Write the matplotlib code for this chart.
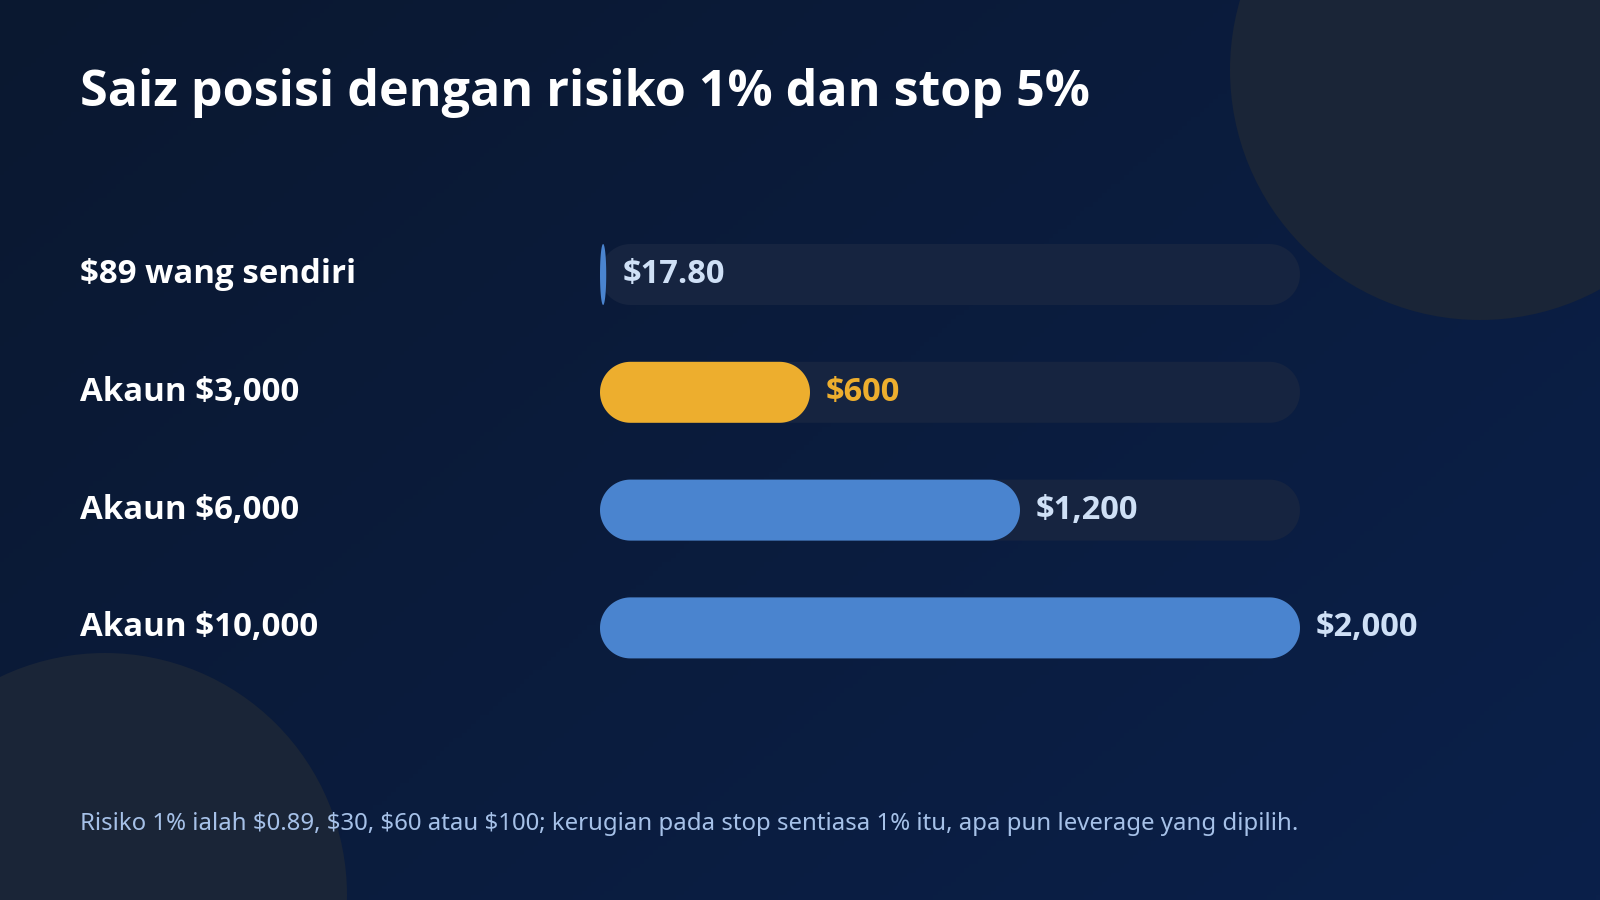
import numpy as np
import matplotlib
matplotlib.use("Agg")
import matplotlib.pyplot as plt
from matplotlib import font_manager
from matplotlib.patches import Polygon, Circle
from matplotlib.transforms import blended_transform_factory, IdentityTransform

# ---- data ----
categories = ["$89 wang sendiri", "Akaun $3,000", "Akaun $6,000", "Akaun $10,000"]
values = [17.80, 600, 1200, 2000]
value_labels = ["$17.80", "$600", "$1,200", "$2,000"]
highlight = [False, True, False, False]
title = "Saiz posisi dengan risiko 1% dan stop 5%"
footnote = ("Risiko 1% ialah $0.89, $30, $60 atau $100; kerugian pada stop sentiasa 1% itu, "
            "apa pun leverage yang dipilih.")
x_max = 2000

plt.rcParams["text.parse_math"] = False

# ---- fonts: find a family with a real bold face ----
bold_fams = {}
for f in font_manager.fontManager.ttflist:
    w = f.weight if isinstance(f.weight, int) else {"bold": 700, "normal": 400}.get(f.weight, 400)
    bold_fams.setdefault(f.name, set()).add(w)
FONT = "Noto Sans"
for cand in ["Noto Sans", "Open Sans", "Lato", "Roboto", "DejaVu Sans"]:
    if cand in bold_fams and max(bold_fams[cand]) >= 600:
        FONT = cand
        break
REG = "Noto Sans" if "Noto Sans" in bold_fams else FONT

# ---- style ----
W, H, DPI = 1600, 900, 100
BLUE = "#4a84cf"
GOLD = "#edae2e"
TRACK = "#162440"
LABEL_BLUE = "#cfe0f6"
CIRCLE = "#1a2537"

fig = plt.figure(figsize=(W / DPI, H / DPI), dpi=DPI)

# background gradient
bg = fig.add_axes([0, 0, 1, 1])
bg.set_axis_off()
c0 = np.array([0x0a, 0x18, 0x30]) / 255
c1 = np.array([0x0b, 0x20, 0x4a]) / 255
yy, xx = np.mgrid[0:1:200j, 0:1:360j]
t = np.clip((xx * 0.6 + yy * 0.4), 0, 1)[..., None]
grad = c0 * (1 - t) + c1 * t
bg.imshow(grad, extent=[0, W, H, 0], aspect="auto", zorder=0)
bg.set_xlim(0, W)
bg.set_ylim(H, 0)
bg.add_patch(Circle((1480, 70), 250, color=CIRCLE, zorder=1, lw=0))
bg.add_patch(Circle((105, 895), 242, color=CIRCLE, zorder=1, lw=0))

# bar axes: x 600..1300 px, rows centred at 274.5 + i*117.8
row = 117.8
top_px = 274.5 - row / 2
bot_px = 274.5 + row * 3.5
ax = fig.add_axes([600 / W, 1 - bot_px / H, 700 / W, (bot_px - top_px) / H])
ax.set_axis_off()
ax.patch.set_alpha(0)
ax.set_xlim(0, x_max)
ax.set_ylim(len(categories) - 0.5, -0.5)
bar_h = 61 / row

fig.canvas.draw()


def rounded_poly(x0, x1, yc, h, color, z):
    # rounded rectangle built in display space from data coords
    p0 = ax.transData.transform((x0, yc - h / 2))
    p1 = ax.transData.transform((x1, yc + h / 2))
    left, right = min(p0[0], p1[0]), max(p0[0], p1[0])
    bottom, top = min(p0[1], p1[1]), max(p0[1], p1[1])
    w = right - left
    ry = (top - bottom) / 2
    rx = min(ry, w / 2)
    th = np.linspace(0, np.pi / 2, 30)
    cxr, cxl = right - rx, left + rx
    cyt, cyb = top - ry, bottom + ry
    pts = []
    for a in th[::-1]:
        pts.append((cxr + rx * np.cos(a), cyt + ry * np.sin(a)))
    for a in th:
        pts.append((cxr + rx * np.cos(a), cyb - ry * np.sin(a)))
    for a in th[::-1]:
        pts.append((cxl - rx * np.cos(a), cyb - ry * np.sin(a)))
    for a in th:
        pts.append((cxl - rx * np.cos(a), cyt + ry * np.sin(a)))
    ax.add_patch(Polygon(pts, closed=True, transform=IdentityTransform(),
                         facecolor=color, edgecolor="none", zorder=z, clip_on=False))


for i, (v, hl) in enumerate(zip(values, highlight)):
    rounded_poly(0, x_max, i, bar_h, TRACK, 2)
    rounded_poly(0, v, i, bar_h, GOLD if hl else BLUE, 3)
    ax.annotate(value_labels[i], xy=(v, i), xytext=(16 * 72 / DPI, 0),
                textcoords="offset points", va="center", ha="left",
                fontsize=23.5, fontweight="bold", family=FONT,
                color=GOLD if hl else LABEL_BLUE, zorder=5, annotation_clip=False)

lab_tr = blended_transform_factory(fig.transFigure, ax.transData)
for i, c in enumerate(categories):
    ax.text(80 / W, i, c, transform=lab_tr, va="center", ha="left",
            fontsize=23.8, fontweight="bold", family=FONT, color="white", zorder=5)

fig.text(80 / W, 1 - 106.5 / H, title, va="baseline", ha="left",
         fontsize=36.2, fontweight="bold", family=FONT, color="white")
fig.text(80 / W, 1 - 830 / H, footnote, va="baseline", ha="left",
         fontsize=17.25, family=REG, color="#a6c1e8")

fig.savefig("out.png", dpi=DPI)
